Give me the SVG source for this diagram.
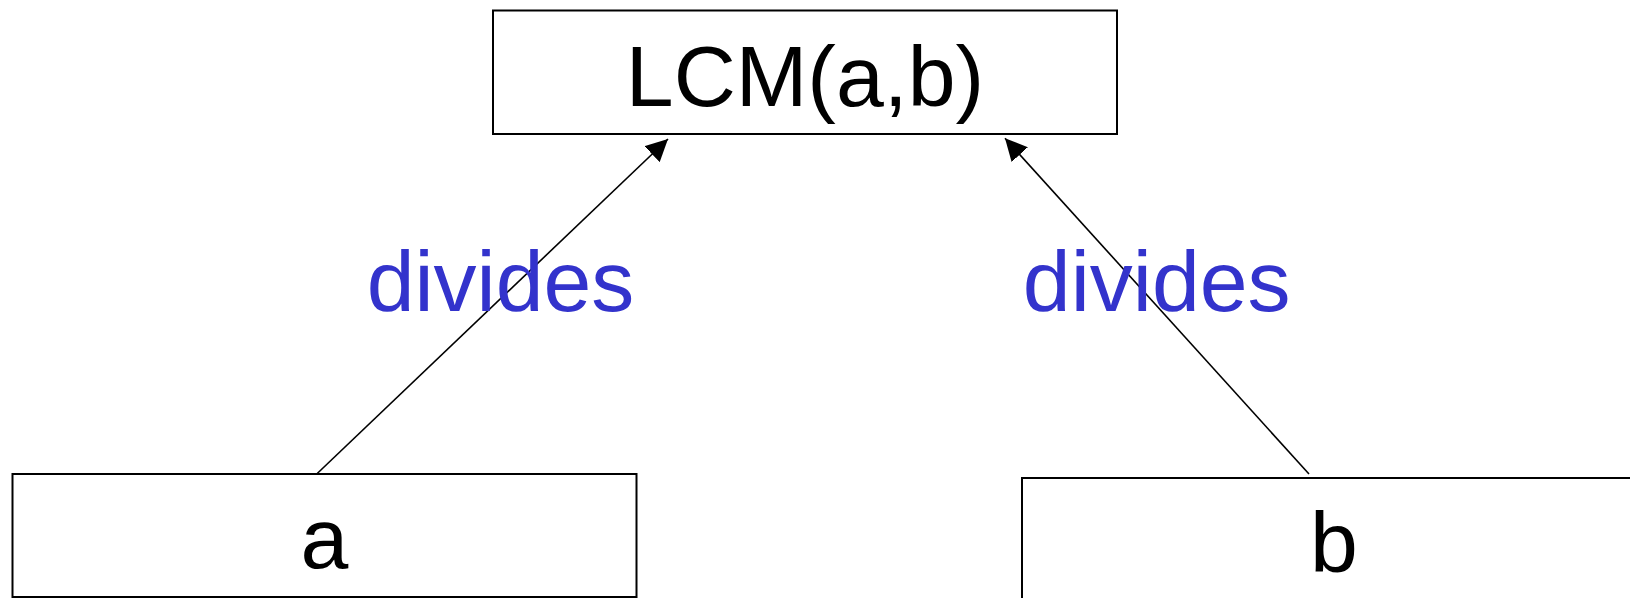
<svg xmlns="http://www.w3.org/2000/svg" width="1630" height="598" viewBox="0 0 1630 598">
<style>
.box{fill:#fff;stroke:#000;stroke-width:2}
.t{font-family:"Liberation Sans",Arial,sans-serif;font-size:86px;fill:#000;text-anchor:middle}
.lbl{font-family:"Liberation Sans",Arial,sans-serif;font-size:86px;fill:#3333CC;text-anchor:middle}
.edge{stroke:#000;stroke-width:1.6;fill:none;marker-end:url(#ah)}
</style>
<defs>
<marker id="ah" markerUnits="userSpaceOnUse" markerWidth="22" markerHeight="22" viewBox="0 0 20 20" refX="20" refY="10" orient="auto">
<path d="M0,0 L20,10 L0,20 Z" fill="#000"/>
</marker>
</defs>
<g id="node-lcm">
<rect class="box" x="493" y="10.5" width="624" height="123.5"/>
<text class="t" x="805" y="106">LCM(a,b)</text>
</g>
<g id="node-a">
<rect class="box" x="12.5" y="474" width="624" height="123"/>
<text class="t" x="324.5" y="568">a</text>
</g>
<g id="node-b">
<rect class="box" x="1022" y="478" width="640" height="130"/>
<text class="t" x="1334" y="572">b</text>
</g>
<g id="connectors">
<line class="edge" x1="316.7" y1="474" x2="668" y2="139"/>
<line class="edge" x1="1309" y1="474" x2="1005" y2="138.3"/>
<text class="lbl" x="500.5" y="311">divides</text>
<text class="lbl" x="1156.7" y="311">divides</text>
</g>
</svg>
